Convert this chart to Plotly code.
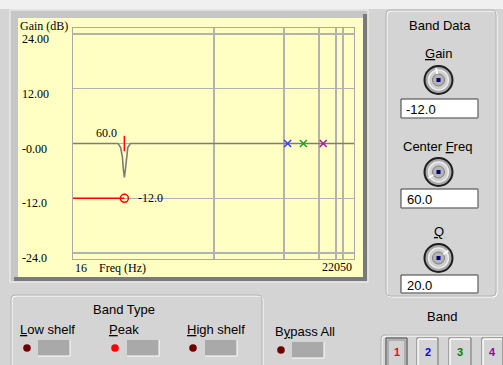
import math
import plotly.graph_objects as go

# ---------------- data ----------------
resp_freq_hz = [16, 51, 54.5, 57, 58.5, 60, 61.5, 63.2, 65.5, 70, 22050]
resp_gain_db = [0, 0, -0.9, -2.9, -5.8, -7.4, -5.8, -2.9, -0.9, 0, 0]

band1_freq = 60.0
band1_gain = -12.0
band1_q = 20.0
gain_line_freq = [16, band1_freq]
gain_line_db = [band1_gain, band1_gain]

other_band_freq = [4000, 6000, 10000]
other_band_gain = [0, 0, 0]
other_band_colors = ["#3b3bff", "#22a022", "#a0209a"]

grid_freqs = [600, 3640, 8960, 13880, 16610]
gain_ticks = [24, 12, 0, -12, -24]
gain_tick_labels = ["24.00", "12.00", "-0.00", "-12.0", "-24.0"]
freq_min, freq_max = 16, 22050

# ---------------- geometry helpers (pixel -> paper) ----------------
W, H = 503, 365
PL, PT, PW, PH = 73, 28, 281, 231


def px(x):
    return (x - PL) / PW


def py(y):
    return (PT + PH - y) / PH


shapes = []


def rect(x0, y0, x1, y1, fill=None, line=None, lw=1, layer="below"):
    shapes.append(dict(type="rect", xref="paper", yref="paper",
                       x0=px(x0), x1=px(x1), y0=py(y1), y1=py(y0),
                       fillcolor=fill if fill else "rgba(0,0,0,0)",
                       line=dict(color=line if line else "rgba(0,0,0,0)", width=lw if line else 0),
                       layer=layer))


def seg(x0, y0, x1, y1, color, lw=1, layer="below"):
    shapes.append(dict(type="line", xref="paper", yref="paper",
                       x0=px(x0), x1=px(x1), y0=py(y0), y1=py(y1),
                       line=dict(color=color, width=lw), layer=layer))


def circ(cx, cy, r, fill, line=None, lw=1, layer="above"):
    shapes.append(dict(type="circle", xref="paper", yref="paper",
                       x0=px(cx - r), x1=px(cx + r), y0=py(cy + r), y1=py(cy - r),
                       fillcolor=fill,
                       line=dict(color=line if line else "rgba(0,0,0,0)", width=lw if line else 0),
                       layer=layer))


def rrect(x0, y0, x1, y1, r, color, lw=1, layer="below"):
    def P(x, y):
        return f"{px(x)},{py(y)}"
    path = (f"M {P(x0 + r, y0)} L {P(x1 - r, y0)} Q {P(x1, y0)} {P(x1, y0 + r)} "
            f"L {P(x1, y1 - r)} Q {P(x1, y1)} {P(x1 - r, y1)} "
            f"L {P(x0 + r, y1)} Q {P(x0, y1)} {P(x0, y1 - r)} "
            f"L {P(x0, y0 + r)} Q {P(x0, y0)} {P(x0 + r, y0)} Z")
    shapes.append(dict(type="path", xref="paper", yref="paper", path=path,
                       line=dict(color=color, width=lw), layer=layer))


annotations = []


def text(x, y, s, size=13, color="#000000", anchor="center", family="Liberation Sans", bold=False):
    if bold:
        s = f"<b>{s}</b>"
    annotations.append(dict(xref="paper", yref="paper", x=px(x), y=py(y), text=s,
                            showarrow=False, xanchor=anchor, yanchor="middle",
                            font=dict(family=family, size=size, color=color)))


# ---------------- background / panels ----------------
rect(-5, -5, 510, 9, fill="#f0f0f0")
# chart frame
rect(10, 10, 368, 282, fill="#c6c6c6", line="#f4f4f4", lw=1)
rect(363, 14, 367, 281, fill="#7a7a7a")
rect(14, 277, 367, 281, fill="#7a7a7a")
rect(18, 18, 363, 277, fill="#ffffc4")

# Band Data group
rrect(387, 11, 497, 297, 4, "#ffffff", 1)
rrect(386, 10, 496, 296, 4, "#b4b4b4", 1)
# Band Type group
rrect(12, 296, 263, 372, 4, "#ffffff", 1)
rrect(11, 295, 262, 371, 4, "#b4b4b4", 1)
# Band selector group
rrect(382, 336, 512, 372, 4, "#ffffff", 1)
rrect(381, 335, 511, 371, 4, "#b4b4b4", 1)

# knobs
knob_pointer = {80: (-0.2, -1.0), 172: (-0.85, 0.5), 258: (0.8, -0.6)}
for cy in (80, 172, 258):
    cx = 438.5
    circ(cx, cy, 14, "#a9a9a9", "#1e1e1e", 2)
    circ(cx, cy, 10, "#cfcfcf", "#ececec", 1.5)
    circ(cx, cy, 6, "#b4b4b4", "#7c7c7c", 1)
    dx, dy = knob_pointer[cy]
    shapes.append(dict(type="line", xref="paper", yref="paper",
                       x0=px(cx + dx * 6), y0=py(cy + dy * 6),
                       x1=px(cx + dx * 12), y1=py(cy + dy * 12),
                       line=dict(color="#ffffff", width=2), layer="above"))
    shapes.append(dict(type="rect", xref="paper", yref="paper",
                       x0=px(cx - 2), x1=px(cx + 2), y0=py(cy + 2), y1=py(cy - 2),
                       fillcolor="#000080", line=dict(width=0), layer="above"))

# value boxes
for (y0, y1) in ((99, 118), (189, 208), (275, 293)):
    rect(401, y0, 478, y1, fill="#ffffff", line="#3a3a3a", lw=1)
    seg(478, y0, 478, y1, "#9a9a9a", 1)
    seg(401, y1, 478, y1, "#9a9a9a", 1)

# LEDs and grey indicator boxes
for (lx, bx, on) in ((27, 38, False), (115, 127, True), (193, 205, False), (281, 292, False)):
    yy = 348 if lx < 270 else 350
    by0 = 340 if lx < 270 else 342
    rect(bx, by0, bx + 32, by0 + 16, fill="#a9a9a9")
    seg(bx, by0 + 16, bx + 32, by0 + 16, "#ffffff", 1)
    seg(bx + 32, by0, bx + 32, by0 + 16, "#ffffff", 1)
    circ(lx, yy, 3.8, "#ff0000" if on else "#6e0000", None)

# band buttons
btn_x = [(386, 407), (417, 438), (449, 471), (482, 503)]
for i, (x0, x1) in enumerate(btn_x):
    if i == 0:
        rect(x0, 338, x1, 366, fill="#d2d2d2", line="#3c3c3c", lw=1)
        rect(x0 + 2, 340, x1 - 2, 366, fill="#d2d2d2", line="#8c8c8c", lw=1)
    else:
        rect(x0, 338, x1, 366, fill="#d4d4d4", line="#707070", lw=1)
        seg(x0 + 1, 339, x1 - 1, 339, "#ffffff", 1.5)
        seg(x0 + 1, 339, x0 + 1, 366, "#ffffff", 1.5)

# ---------------- texts ----------------
SERIF = "Liberation Serif"
text(18, 26, "Gain (dB)", 12, family=SERIF, anchor="left")
text(73, 268, "16", 12, family=SERIF, anchor="left")
text(97, 268, "Freq (Hz)", 12, family=SERIF, anchor="left")
text(354, 267, str(freq_max), 12, family=SERIF, anchor="right")

text(440, 25, "Band Data", 13)
text(438, 54, "<u>G</u>ain", 13)
text(437, 146, "Center <u>F</u>req", 13)
text(439, 231, "<u>Q</u>", 13)
text(404, 109, f"{band1_gain:.1f}", 13, anchor="left")
text(405, 199, f"{band1_freq:.1f}", 13, anchor="left")
text(405, 285, f"{band1_q:.1f}", 13, anchor="left")

text(124, 309, "Band Type", 13)
text(18, 329, "<u>L</u>ow shelf", 13, anchor="left")
text(107, 329, "<u>P</u>eak", 13, anchor="left")
text(185, 329, "<u>H</u>igh shelf", 13, anchor="left")
text(273, 331, "B<u>y</u>pass All", 13, anchor="left")
text(442, 316, "Band", 13)
for i, (c, col) in enumerate(zip(btn_x, ["#ff0000", "#0000ff", "#008000", "#a000a0"])):
    text((c[0] + c[1]) / 2 + (1 if i == 0 else 0), 352, str(i + 1), 11, color=col, bold=True)

# y tick labels (left aligned, below grid line)
for v, lab in zip(gain_ticks, gain_tick_labels):
    annotations.append(dict(xref="paper", yref="y", x=px(20), y=v, text=lab, showarrow=False,
                            xanchor="left", yanchor="middle", yshift=-5,
                            font=dict(family=SERIF, size=12, color="#000000")))

# band 1 labels
annotations.append(dict(xref="x", yref="y", x=math.log10(band1_freq), y=0, text=f"{band1_freq:.1f}",
                        showarrow=False, xanchor="right", yanchor="middle", xshift=-5, yshift=11,
                        font=dict(family=SERIF, size=12, color="#000000")))
annotations.append(dict(xref="x", yref="y", x=math.log10(band1_freq), y=band1_gain, text=f"{band1_gain:.1f}",
                        showarrow=False, xanchor="left", yanchor="middle", xshift=12, yshift=0,
                        font=dict(family=SERIF, size=12, color="#000000")))

# ---------------- traces ----------------
fig = go.Figure()
fig.add_trace(go.Scatter(x=resp_freq_hz, y=resp_gain_db, mode="lines",
                         line=dict(color="#7c7c7c", width=1.6), hoverinfo="skip"))
fig.add_trace(go.Scatter(x=gain_line_freq, y=gain_line_db, mode="lines",
                         line=dict(color="#ff0000", width=1.5), hoverinfo="skip"))
fig.add_trace(go.Scatter(x=[band1_freq], y=[band1_gain], mode="markers",
                         marker=dict(symbol="circle-open", size=8, color="#ff0000",
                                     line=dict(width=1.5, color="#ff0000")), hoverinfo="skip"))
fig.add_trace(go.Scatter(x=[band1_freq], y=[0], mode="markers",
                         marker=dict(symbol="line-ns", size=11,
                                     line=dict(width=1.5, color="#ff0000")), hoverinfo="skip"))
fig.add_trace(go.Scatter(x=other_band_freq, y=other_band_gain, mode="markers",
                         marker=dict(symbol="x-thin", size=7,
                                     line=dict(width=1.5, color=other_band_colors)), hoverinfo="skip"))

fig.update_layout(
    width=W, height=H, autosize=False,
    margin=dict(l=PL, r=W - PL - PW, t=PT, b=H - PT - PH, pad=0),
    paper_bgcolor="#d4d4d4", plot_bgcolor="rgba(0,0,0,0)",
    showlegend=False,
    shapes=shapes, annotations=annotations,
    xaxis=dict(type="log", range=[math.log10(freq_min), math.log10(freq_max)],
               tickvals=grid_freqs, showticklabels=False, ticks="",
               showgrid=True, gridcolor="#b2b2b2", gridwidth=1.3,
               showline=True, linecolor="#a8a8a8", linewidth=1.3, mirror=True,
               zeroline=False, fixedrange=True),
    yaxis=dict(range=[-25.3, 25.3], tickvals=gain_ticks, showticklabels=False, ticks="",
               showgrid=True, gridcolor="#b2b2b2", gridwidth=1.3,
               showline=True, linecolor="#a8a8a8", linewidth=1.3, mirror=True,
               zeroline=False, fixedrange=True),
)

fig.write_html("out.html", config={"displayModeBar": False, "staticPlot": True},
               post_script="document.body.style.margin='0';document.body.style.overflow='hidden';")
